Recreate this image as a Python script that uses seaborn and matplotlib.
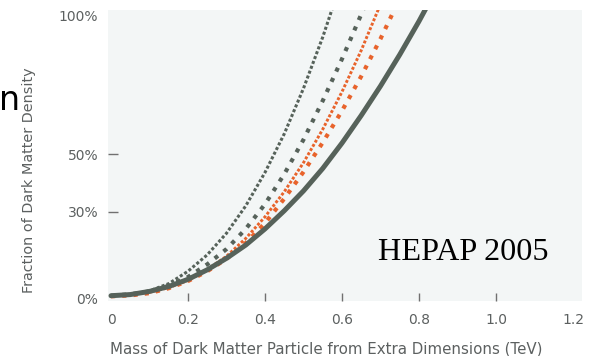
import matplotlib
matplotlib.use("Agg")
import matplotlib.pyplot as plt
import seaborn as sns
import pandas as pd

# ---- data ----
mass = [0.0, 0.05, 0.10, 0.15, 0.20, 0.25, 0.30, 0.35, 0.40, 0.45,
        0.50, 0.55, 0.60, 0.65, 0.70, 0.75, 0.80, 0.85]
gray_fine = [0.8, 1.3, 2.5, 5.0, 9.3, 15.0, 22.5, 32.0, 43.6, 57.0, 72.8, 90.6, 110.6]
gray_coarse = [0.8, 1.3, 2.3, 4.3, 7.3, 11.7, 17.0, 24.0, 32.6, 43.0, 55.0, 68.5, 83.0, 98.5, 115.0]
orange_fine = [0.8, 1.2, 2.0, 3.6, 6.1, 9.9, 14.5, 20.7, 28.2, 36.9, 47.0, 58.6, 71.6, 86.0, 102.0]
orange_coarse = [0.6, 0.9, 1.7, 3.4, 5.9, 9.3, 13.6, 19.1, 26.0, 34.5, 43.8, 54.0, 65.0, 77.0, 90.0, 104.0]
gray_solid = [0.8, 1.2, 2.3, 4.0, 6.5, 9.8, 13.8, 18.4, 24.0, 30.3, 37.2, 45.0, 53.8, 63.4, 73.6, 84.5, 96.1, 108.5]

x_ticks = [0, 0.2, 0.4, 0.6, 0.8, 1.0, 1.2]
x_tick_labels = ["0", "0.2", "0.4", "0.6", "0.8", "1.0", "1.2"]
y_ticks = [0, 30, 50, 100]
y_tick_labels = ["0%", "30%", "50%", "100%"]

GRAY = "#56625a"
ORANGE = "#e8632b"
TXT = "#5c6060"

sns.set_theme(style="white")
plt.rcParams["font.family"] = ["DejaVu Sans"]

fig = plt.figure(figsize=(6.06, 3.56), dpi=100)
ax = fig.add_axes([108/606, 1 - 301/356, (582-108)/606, (301-10)/356])
ax.set_facecolor("#f3f6f6")

series = [
    (gray_fine, GRAY, 2.2, (0, (1, 0.7))),
    (gray_coarse, GRAY, 3.0, (0, (1, 1.7))),
    (orange_fine, ORANGE, 2.1, (0, (1, 0.65))),
    (orange_coarse, ORANGE, 3.0, (0, (1, 1.7))),
    (gray_solid, GRAY, 3.6, "-"),
]
for vals, col, lw, ls in series:
    df = pd.DataFrame({"mass": mass[:len(vals)], "frac": vals})
    sns.lineplot(data=df, x="mass", y="frac", color=col, linewidth=lw,
                 linestyle=ls, ax=ax, legend=False)

ax.set_xlim(-0.0078, 1.2234)
ax.set_ylim(-1.03, 99.3)

for s in ax.spines.values():
    s.set_visible(False)

ax.set_xticks(x_ticks)
ax.set_xticklabels(x_tick_labels)
ax.set_yticks(y_ticks)
ax.set_yticklabels(y_tick_labels)
ax.tick_params(axis="x", direction="in", length=6, width=1, color="#707070",
               pad=8.5, labelsize=10, labelcolor=TXT, bottom=True)
ax.tick_params(axis="y", direction="in", length=7, width=1, color="#707070",
               pad=7, labelsize=10, labelcolor=TXT, left=True)
xt = ax.xaxis.get_major_ticks()
xt[0].tick1line.set_visible(False)
xt[-1].tick1line.set_visible(False)
yt = ax.yaxis.get_major_ticks()
yt[0].tick1line.set_visible(False)
yt[-1].tick1line.set_visible(False)
for lab in ax.get_yticklabels():
    if lab.get_text() == "100%":
        lab.set_verticalalignment("top")

ax.set_xlabel("Mass of Dark Matter Particle from Extra Dimensions (TeV)",
              fontsize=10.8, color=TXT)
ax.xaxis.set_label_coords(0.46, -0.14)
ax.set_ylabel("Fraction of Dark Matter Density", fontsize=10.4, color=TXT)
ax.yaxis.set_label_coords(-0.152, 0.416)

ax.text(0.693, 13.1, "HEPAP 2005", fontsize=23.2, family="Liberation Serif",
        color="black", ha="left", va="baseline")

fig.text(-1/606, 1 - 110/356, "n", fontsize=24, color="black",
         ha="left", va="baseline")

fig.savefig("out.png", dpi=100)
